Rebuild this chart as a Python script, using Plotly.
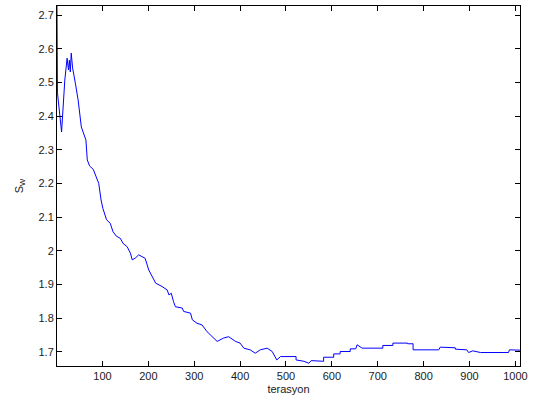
import plotly.graph_objects as go

iterations = [1, 2, 11, 18, 23, 26, 28, 30, 32, 35,
              41, 47, 54, 59, 64, 67, 72, 80, 87, 92,
              97, 101, 109, 117, 123, 130, 139, 145, 154, 161,
              165, 172, 179, 186, 193, 201, 212, 216, 230, 241,
              245, 250, 255, 259, 274, 277, 292, 296, 306, 317,
              328, 339, 350, 364, 375, 390, 400, 408, 422, 433,
              444, 459, 470, 480,
              488, 522, 522, 539, 550, 555, 582, 582, 604, 604,
              618, 618, 640, 640, 652, 655, 666, 711, 711, 733,
              733, 765, 765, 777, 777, 833, 836, 869, 869, 894,
              898, 907, 924, 985, 987, 1010]
sw_values = [2.727, 2.469, 2.353, 2.507, 2.572, 2.537, 2.566, 2.531, 2.587, 2.543,
             2.498, 2.448, 2.368, 2.35, 2.329, 2.27, 2.252, 2.242, 2.215, 2.2,
             2.151, 2.126, 2.092, 2.082, 2.057, 2.044, 2.037, 2.022, 2.012, 1.993,
             1.973, 1.979, 1.988, 1.983, 1.978, 1.943, 1.914, 1.904, 1.894, 1.884,
             1.869, 1.874, 1.849, 1.834, 1.83, 1.82, 1.815, 1.795, 1.785, 1.78,
             1.76, 1.745, 1.731, 1.741, 1.745, 1.731, 1.726, 1.711, 1.706, 1.696,
             1.706, 1.711, 1.701, 1.676,
             1.686, 1.686, 1.676, 1.672, 1.666, 1.674, 1.672, 1.684, 1.684, 1.694,
             1.694, 1.701, 1.701, 1.709, 1.709, 1.721, 1.711, 1.711, 1.719, 1.719,
             1.726, 1.726, 1.724, 1.724, 1.706, 1.706, 1.714, 1.712, 1.708, 1.706,
             1.698, 1.703, 1.698, 1.698, 1.706, 1.705]

x_ticks = [100, 200, 300, 400, 500, 600, 700, 800, 900, 1000]
y_ticks = [1.7, 1.8, 1.9, 2.0, 2.1, 2.2, 2.3, 2.4, 2.5, 2.6, 2.7]
y_tick_labels = ["1.7", "1.8", "1.9", "2", "2.1", "2.2", "2.3", "2.4", "2.5", "2.6", "2.7"]

fig = go.Figure()
fig.add_trace(go.Scatter(x=iterations, y=sw_values, mode="lines",
                         line=dict(color="#0000ff", width=1), showlegend=False))

font = dict(family="Liberation Sans, Arial, sans-serif", size=11, color="#1a1a1a")
fig.update_layout(
    width=544, height=401,
    margin=dict(l=57, r=24, t=6, b=35),
    paper_bgcolor="white", plot_bgcolor="white",
    font=font,
    xaxis=dict(range=[1, 1010], tickvals=x_ticks, ticks="inside", ticklen=5,
               tickcolor="black", showline=True, linecolor="black", linewidth=1,
               mirror="ticks", showgrid=False, zeroline=False,
               title=dict(text="terasyon", standoff=4, font=font)),
    yaxis=dict(range=[1.658, 2.727], tickvals=y_ticks, ticktext=y_tick_labels,
               ticks="inside", ticklen=5, tickcolor="black", showline=True,
               linecolor="black", linewidth=1, mirror="ticks", showgrid=False,
               zeroline=False,
               title=dict(text="S<sub>W</sub>", standoff=12, font=font)),
)
fig.write_html("out.html")
